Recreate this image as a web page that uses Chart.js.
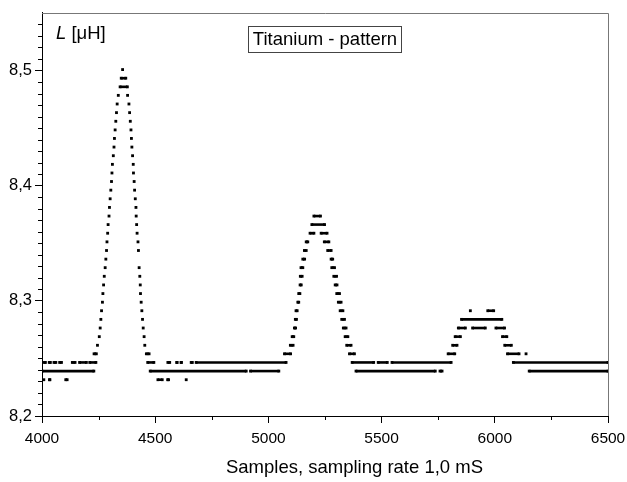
<!DOCTYPE html>
<html>
<head>
<meta charset="utf-8">
<script src="https://cdn.jsdelivr.net/npm/chart.js@4.4.1/dist/chart.umd.min.js"></script>
<style>
  html, body { margin: 0; padding: 0; background: #fff; }
</style>
</head>
<body>
<canvas id="chart" width="627" height="482"></canvas>
<script>
// Axis ticks
const xTicks = [4000, 4500, 5000, 5500, 6000, 6500];
const xTickLabels = ["4000", "4500", "5000", "5500", "6000", "6500"];
const yTicks = [8.2, 8.3, 8.4, 8.5];
const yTickLabels = ["8,2", "8,3", "8,4", "8,5"];

// Measured samples, as horizontal runs of equal value: [L, first sample, last sample]
const baselineRuns = [
  [8.2390, 4000, 4229], [8.2390, 4478, 4902], [8.2390, 4921, 5046],
  [8.2390, 5387, 5737], [8.2390, 5758, 5767], [8.2390, 6152, 6500],
  [8.2315, 4008, 4008], [8.2315, 4033, 4035], [8.2315, 4105, 4111],
  [8.2315, 4512, 4531], [8.2315, 4555, 4559], [8.2315, 4637, 4637],
  [8.2465, 4010, 4015], [8.2465, 4032, 4037], [8.2465, 4053, 4061],
  [8.2465, 4078, 4086], [8.2465, 4134, 4146], [8.2465, 4166, 4196],
  [8.2465, 4211, 4238], [8.2465, 4467, 4494], [8.2465, 4556, 4564],
  [8.2465, 4595, 4597], [8.2465, 4614, 4616], [8.2465, 4659, 4664],
  [8.2465, 4681, 5078], [8.2465, 5370, 5465], [8.2465, 5485, 5525],
  [8.2465, 5546, 5807], [8.2465, 6082, 6500]
];

const peak1Runs = [
  [8.2540, 4230, 4240], [8.2614, 4245, 4245], [8.2689, 4253, 4253],
  [8.2764, 4257, 4257], [8.2839, 4260, 4260], [8.2914, 4263, 4263],
  [8.2988, 4267, 4267], [8.3063, 4269, 4269], [8.3138, 4272, 4272],
  [8.3213, 4275, 4275], [8.3288, 4279, 4279], [8.3362, 4282, 4282],
  [8.3437, 4285, 4285], [8.3512, 4287, 4287], [8.3587, 4290, 4290],
  [8.3662, 4292, 4292], [8.3736, 4296, 4296], [8.3811, 4298, 4298],
  [8.3886, 4301, 4301], [8.3961, 4304, 4304], [8.4036, 4307, 4307],
  [8.4110, 4309, 4309], [8.4185, 4311, 4311], [8.4260, 4315, 4315],
  [8.4335, 4318, 4318], [8.4410, 4320, 4320], [8.4484, 4323, 4323],
  [8.4559, 4326, 4326], [8.4634, 4329, 4329], [8.4709, 4332, 4332],
  [8.4784, 4337, 4337], [8.4858, 4345, 4377], [8.4933, 4350, 4370],
  [8.5008, 4356, 4356], [8.4784, 4378, 4378], [8.4709, 4384, 4384],
  [8.4634, 4387, 4387], [8.4559, 4390, 4390], [8.4484, 4393, 4393],
  [8.4410, 4395, 4395], [8.4335, 4397, 4397], [8.4260, 4400, 4400],
  [8.4185, 4403, 4403], [8.4110, 4404, 4404], [8.4036, 4407, 4407],
  [8.3961, 4409, 4409], [8.3886, 4412, 4412], [8.3811, 4415, 4415],
  [8.3736, 4416, 4416], [8.3662, 4418, 4418], [8.3587, 4420, 4420],
  [8.3512, 4424, 4424], [8.3437, 4426, 4426], [8.3288, 4429, 4429],
  [8.3213, 4432, 4432], [8.3138, 4434, 4434], [8.3063, 4435, 4435],
  [8.2988, 4438, 4438], [8.2914, 4441, 4441], [8.2839, 4444, 4444],
  [8.2764, 4447, 4447], [8.2689, 4451, 4451], [8.2614, 4454, 4454],
  [8.2540, 4461, 4473]
];

const peak2Runs = [
  [8.2540, 5071, 5098], [8.2614, 5097, 5109], [8.2689, 5105, 5112],
  [8.2764, 5115, 5120], [8.2839, 5119, 5124], [8.2914, 5122, 5127],
  [8.2988, 5130, 5134], [8.3063, 5134, 5139], [8.3138, 5140, 5145],
  [8.3213, 5141, 5149], [8.3288, 5144, 5152], [8.3362, 5152, 5160],
  [8.3437, 5159, 5167], [8.3512, 5167, 5174], [8.3587, 5184, 5201],
  [8.3662, 5192, 5248], [8.3736, 5201, 5230], [8.3587, 5233, 5259],
  [8.3512, 5247, 5267], [8.3437, 5262, 5277], [8.3362, 5277, 5284],
  [8.3288, 5280, 5292], [8.3213, 5289, 5301], [8.3138, 5295, 5303],
  [8.3063, 5302, 5314], [8.2988, 5309, 5321], [8.2914, 5317, 5329],
  [8.2839, 5324, 5336], [8.2764, 5331, 5343], [8.2689, 5339, 5351],
  [8.2614, 5346, 5365], [8.2540, 5358, 5380]
];

const peak3Runs = [
  [8.2540, 5794, 5823], [8.2614, 5814, 5833], [8.2689, 5825, 5848],
  [8.2764, 5839, 5870], [8.2764, 5902, 5958], [8.2764, 6005, 6043],
  [8.2839, 5853, 6031], [8.2914, 5892, 5892], [8.2914, 5969, 5995],
  [8.2689, 6034, 6053], [8.2614, 6044, 6073], [8.2540, 6056, 6107],
  [8.2540, 6138, 6138]
];

const allRuns = [...baselineRuns, ...peak1Runs, ...peak2Runs, ...peak3Runs];

const datasets = allRuns.map(([v, x0, x1]) => ({
  data: x0 === x1 ? [{ x: x0, y: v }] : [{ x: x0, y: v }, { x: x1, y: v }],
  showLine: true,
  borderColor: "#000",
  borderWidth: 2.6,
  borderCapStyle: "butt",
  pointStyle: "rect",
  pointRadius: 2,
  pointBackgroundColor: "#000",
  pointBorderWidth: 0,
  clip: 0
}));

const FONT = "'Liberation Sans', Arial, sans-serif";
Chart.defaults.font.family = FONT;
Chart.defaults.color = "#000";

// minor ticks, frame and the text labels
const decor = {
  id: "decor",
  afterDraw(chart) {
    const { ctx, chartArea: a, scales } = chart;
    const x = scales.x, y = scales.y;
    ctx.save();
    ctx.strokeStyle = "#000";
    ctx.lineWidth = 1;
    ctx.beginPath();
    for (let i = 1; i < 35; i++) {
      if (i % 10 === 0) continue;
      const py = Math.round(y.getPixelForValue(8.2 + i * 0.01)) + 0.5;
      ctx.moveTo(a.left - 4, py);
      ctx.lineTo(a.left, py);
    }
    for (let v = 4250; v < 6500; v += 500) {
      const px = Math.round(x.getPixelForValue(v)) + 0.5;
      ctx.moveTo(px, a.bottom);
      ctx.lineTo(px, a.bottom + 4);
    }
    ctx.stroke();

    ctx.strokeStyle = "#777";
    ctx.beginPath();
    ctx.moveTo(a.left, Math.round(a.top) + 0.5);
    ctx.lineTo(Math.round(a.right) + 0.5, Math.round(a.top) + 0.5);
    ctx.lineTo(Math.round(a.right) + 0.5, a.bottom);
    ctx.stroke();

    // y label inside the plot
    ctx.fillStyle = "#000";
    ctx.textBaseline = "middle";
    ctx.textAlign = "left";
    ctx.font = "italic 18.5px " + FONT;
    ctx.fillText("L", 56, 34);
    const lw = ctx.measureText("L ").width;
    ctx.font = "18.5px " + FONT;
    ctx.fillText("[\u03BCH]", 56 + lw, 34);

    // boxed caption
    ctx.strokeStyle = "#444";
    ctx.strokeRect(248.5, 26.5, 153, 26);
    ctx.textAlign = "center";
    ctx.fillText("Titanium - pattern", 325, 40);

    // x axis title
    ctx.fillText("Samples, sampling rate 1,0 mS", 354.5, 468);
    ctx.restore();
  }
};

new Chart(document.getElementById("chart"), {
  type: "scatter",
  data: { datasets },
  plugins: [decor],
  options: {
    responsive: false,
    animation: false,
    devicePixelRatio: 1,
    layout: { autoPadding: false, padding: { top: 11, right: 19, left: 0, bottom: 0 } },
    plugins: { legend: { display: false }, tooltip: { enabled: false } },
    scales: {
      x: {
        type: "linear",
        min: 4000,
        max: 6500,
        afterBuildTicks: (axis) => { axis.ticks = xTicks.map(v => ({ value: v })); },
        afterFit: (axis) => {
          axis.height = 66;
          axis.paddingLeft = 0;
          axis.paddingRight = 0;
        },
        grid: { drawOnChartArea: false, tickLength: 7, tickColor: "#000", tickWidth: 1 },
        border: { color: "#000", width: 1 },
        ticks: {
          font: { size: 15.5 },
          padding: 6,
          maxRotation: 0,
          autoSkip: false,
          callback: (v, i) => xTickLabels[i]
        }
      },
      y: {
        type: "linear",
        min: 8.2,
        max: 8.55,
        afterBuildTicks: (axis) => { axis.ticks = yTicks.map(v => ({ value: v })); },
        afterFit: (axis) => { axis.width = 42; },
        grid: { drawOnChartArea: false, tickLength: 7, tickColor: "#000", tickWidth: 1 },
        border: { color: "#000", width: 1 },
        ticks: {
          font: { size: 16.5 },
          padding: 3,
          autoSkip: false,
          callback: (v, i) => yTickLabels[i]
        }
      }
    }
  }
});
</script>
</body>
</html>
